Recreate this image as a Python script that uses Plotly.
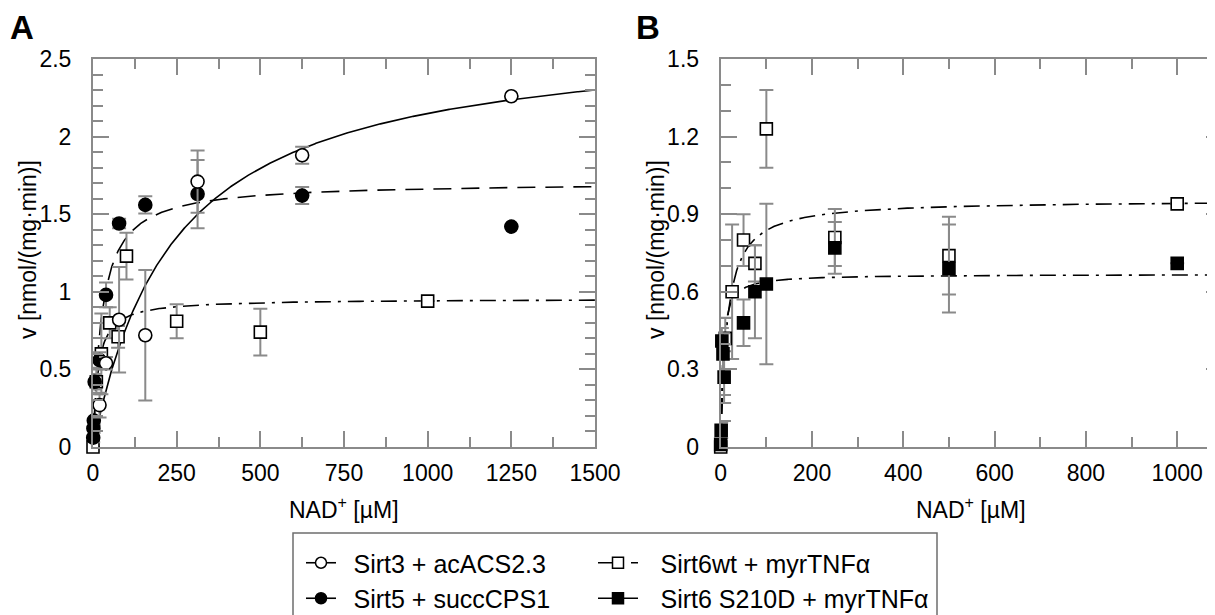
import numpy as np
import plotly.graph_objects as go

W, H = 1215, 615
OX, OY = 8, 8   # page offset of the figure inside the browser window

# ---------------- data ----------------
# Panel A
sirt3_x = [19.5, 39, 78, 156.25, 312.5, 625, 1250]
sirt3_y = [0.27, 0.54, 0.82, 0.72, 1.71, 1.88, 2.26]
sirt3_err = [0.08, 0.04, 0.34, 0.42, 0.20, 0.055, 0.0]

sirt5_x = [0.6, 1.2, 2.4, 4.9, 19.5, 39, 78, 156.25, 312.5, 625, 1250]
sirt5_y = [0.06, 0.12, 0.17, 0.42, 0.56, 0.98, 1.44, 1.56, 1.63, 1.62, 1.42]
sirt5_err = [0.03, 0.03, 0.03, 0.05, 0.05, 0.08, 0.03, 0.055, 0.22, 0.055, 0.0]

# Sirt6wt (shown in both panels)
sirt6wt_x = [0, 10, 25, 50, 75, 100, 250, 500, 1000]
sirt6wt_y = [0.0, 0.42, 0.60, 0.80, 0.71, 1.23, 0.81, 0.74, 0.94]
sirt6wt_err = [0.0, 0.08, 0.26, 0.10, 0.07, 0.15, 0.11, 0.15, 0.0]

# Panel B
s210d_x = [0, 1, 2.5, 5, 7.5, 50, 75, 100, 250, 500, 1000]
s210d_y = [0.01, 0.065, 0.41, 0.36, 0.27, 0.48, 0.60, 0.63, 0.77, 0.69, 0.71]
s210d_err = [0.01, 0.03, 0.05, 0.08, 0.10, 0.09, 0.18, 0.31, 0.10, 0.17, 0.0]

# Michaelis-Menten fit parameters (Vmax, Km) estimated from the drawn curves
fit_sirt3 = (2.676, 245.0)
fit_sirt5 = (1.707, 26.4)
fit_sirt6wt = (0.955, 14.0)
fit_s210d = (0.668, 4.5)

xA_ticks = [0, 250, 500, 750, 1000, 1250, 1500]
yA_ticks = [0, 0.5, 1, 1.5, 2, 2.5]
xB_ticks = [0, 200, 400, 600, 800, 1000]
yB_ticks = [0, 0.3, 0.6, 0.9, 1.2, 1.5]

legend_names = ["Sirt3 + acACS2.3", "Sirt5 + succCPS1",
                "Sirt6wt + myrTNFα", "Sirt6 S210D + myrTNFα"]

# ---------------- layout geometry (window pixels) ----------------
A_left, A_right = 93, 595
B_left = 720.7
B_px_per_unit = 0.4565
B_right = 1222
B_xmax = (B_right - B_left) / B_px_per_unit
top_px, bot_px = 59, 447

def px(xw):
    return (xw - OX) / W

def py(yw):
    return 1 - (yw - OY) / H

GREY = "#8a8a8a"
FONT = "Arial, Liberation Sans, sans-serif"
FS = 23
DASHDOT = "16px,7px,3px,7px"

def mm(params, xmax):
    v, k = params
    xs = np.linspace(0, xmax, 600)
    return xs, v * xs / (k + xs)

fig = go.Figure()

# fit curves (panel A)
for params, dash in [(fit_sirt3, "solid"), (fit_sirt5, "18px,10px"),
                     (fit_sirt6wt, DASHDOT)]:
    xs, ys = mm(params, 1500)
    fig.add_trace(go.Scatter(x=xs, y=ys, mode="lines", xaxis="x", yaxis="y",
                             line=dict(color="black", width=1.6, dash=dash),
                             showlegend=False, hoverinfo="skip"))
# fit curves (panel B)
for params in [fit_sirt6wt, fit_s210d]:
    xs, ys = mm(params, B_xmax)
    fig.add_trace(go.Scatter(x=xs, y=ys, mode="lines", xaxis="x2", yaxis="y2",
                             line=dict(color="black", width=1.6, dash=DASHDOT),
                             showlegend=False, hoverinfo="skip"))

def pts(x, y, err, symbol, fill, xa, ya):
    return go.Scatter(
        x=x, y=y, mode="markers", xaxis=xa, yaxis=ya, cliponaxis=False,
        marker=dict(symbol=symbol, size=13 if "circle" in symbol else 12,
                    color=fill, line=dict(color="black", width=1.6)),
        error_y=dict(type="data", array=err, visible=True, color=GREY,
                     thickness=2, width=7),
        showlegend=False)

# panel A markers
fig.add_trace(pts(sirt6wt_x, sirt6wt_y, sirt6wt_err, "square", "white", "x", "y"))
fig.add_trace(pts(sirt5_x, sirt5_y, sirt5_err, "circle", "black", "x", "y"))
fig.add_trace(pts(sirt3_x, sirt3_y, sirt3_err, "circle", "white", "x", "y"))
# panel B markers
fig.add_trace(pts(sirt6wt_x, sirt6wt_y, sirt6wt_err, "square", "white", "x2", "y2"))
fig.add_trace(pts(s210d_x, s210d_y, s210d_err, "square", "black", "x2", "y2"))

# legend entries
leg_specs = [
    (legend_names[0], "circle", "white", "solid", "legend", "\u2002"),
    (legend_names[1], "circle", "black", "solid", "legend", "\u2002"),
    (legend_names[2], "square", "white", DASHDOT, "legend2", "\u2002\u2009"),
    (legend_names[3], "square", "black", "solid", "legend2", "\u2002\u2009"),
]
for i, (name, sym, fill, dash, lg, pad) in enumerate(leg_specs):
    fig.add_trace(go.Scatter(
        x=[None], y=[None], mode="lines+markers", name=pad + name, legend=lg,
        legendgroup=f"g{i}", xaxis="x", yaxis="y",
        line=dict(color="black", width=1.6, dash=dash),
        marker=dict(symbol=sym, size=11, color=fill, line=dict(color="black", width=1.5))))

ydom = [py(bot_px), py(top_px)]

def axis_common(**kw):
    d = dict(showline=True, linecolor=GREY, linewidth=2, ticks="inside",
             ticklen=16, tickwidth=2, tickcolor=GREY, showgrid=False,
             zeroline=False, automargin=False,
             tickfont=dict(family=FONT, size=FS, color="black"))
    d.update(kw)
    return d

def minor(dt):
    return dict(dtick=dt, tick0=0, ticks="inside", ticklen=10, tickwidth=2,
                tickcolor=GREY)

LEG_FS = 25
fig.update_layout(
    width=W, height=H, margin=dict(l=0, r=0, t=0, b=0, autoexpand=False),
    plot_bgcolor="white", paper_bgcolor="white",
    font=dict(family=FONT, size=FS, color="black"),
    xaxis=axis_common(domain=[px(A_left), px(A_right)], range=[0, 1500],
                      anchor="y", tickvals=xA_ticks, mirror="ticks",
                      minor=minor(125), ticklabelstandoff=4),
    yaxis=axis_common(domain=ydom, range=[0, 2.5], anchor="x",
                      tickvals=yA_ticks, mirror="ticks",
                      minor=minor(0.1), ticklabelstandoff=15),
    xaxis2=axis_common(domain=[px(B_left), px(B_right)], range=[0, B_xmax],
                       anchor="y2", tickvals=xB_ticks, mirror="ticks",
                       minor=minor(100), ticklabelstandoff=4),
    yaxis2=axis_common(domain=ydom, range=[0, 1.5], anchor="x2",
                       tickvals=yB_ticks, mirror="ticks",
                       minor=minor(0.1), ticklabelstandoff=15),
    legend=dict(x=px(301), y=py(540), xanchor="left", yanchor="top",
                bgcolor="rgba(0,0,0,0)", borderwidth=0, tracegroupgap=0,
                font=dict(family=FONT, size=LEG_FS), itemwidth=30),
    legend2=dict(x=px(593), y=py(540), xanchor="left", yanchor="top",
                 bgcolor="rgba(0,0,0,0)", borderwidth=0, tracegroupgap=0,
                 font=dict(family=FONT, size=LEG_FS), itemwidth=40),
)

# legend frame
fig.add_shape(type="rect", xref="paper", yref="paper",
              x0=px(293), x1=px(937), y0=-0.05, y1=py(533),
              line=dict(color="#6e6e6e", width=1.5), fillcolor="rgba(0,0,0,0)")

# axis titles and panel letters
ann = [
    dict(text="NAD<sup>+</sup> [µM]", x=px((A_left + A_right) / 2), y=py(508)),
    dict(text="NAD<sup>+</sup> [µM]", x=px((B_left + B_right) / 2), y=py(508)),
    dict(text="v [nmol/(mg·min)]", x=px(28), y=py(250), textangle=-90),
    dict(text="v [nmol/(mg·min)]", x=px(656), y=py(250), textangle=-90),
    dict(text="<b>A</b>", x=px(22), y=py(28), font=dict(family=FONT, size=33)),
    dict(text="<b>B</b>", x=px(648), y=py(28), font=dict(family=FONT, size=33)),
]
for a in ann:
    base = dict(xref="paper", yref="paper", showarrow=False, xanchor="center",
                yanchor="middle", font=dict(family=FONT, size=FS, color="black"))
    base.update(a)
    fig.add_annotation(**base)

fig.write_html("out.html")
